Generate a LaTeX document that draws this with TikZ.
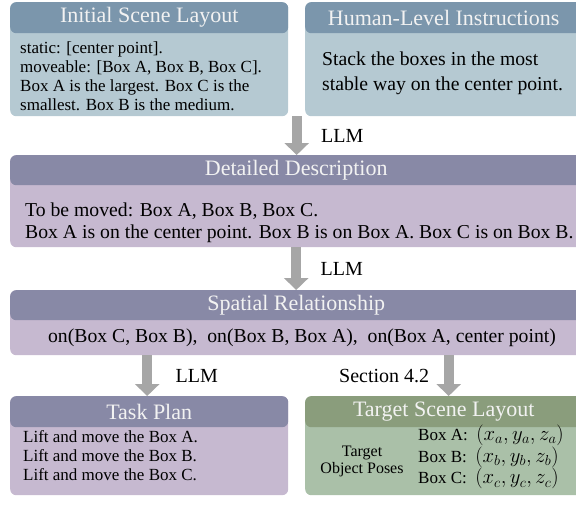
\documentclass[tikz,border=0pt]{standalone}
\usepackage{fontspec}
\setmainfont{Liberation Serif}
\usetikzlibrary{arrows.meta,calc}
\definecolor{bluehead}{HTML}{7B96AC}
\definecolor{bluebody}{HTML}{B5C9D2}
\definecolor{purphead}{HTML}{8889A6}
\definecolor{purpbody}{HTML}{C6B9D0}
\definecolor{greenhead}{HTML}{8A9D7C}
\definecolor{greenbody}{HTML}{AAC0A8}
\definecolor{arrowgray}{HTML}{A6A6A6}
\definecolor{headtext}{HTML}{F2F2F2}
\newcommand{\posemath}[1]{{\fontsize{19.5}{18}\selectfont$#1$}}

\begin{document}
\begin{tikzpicture}[x=1pt, y=-1pt,
  panel/.style={rounded corners=6pt, anchor=north west, inner sep=0pt},
  head/.style={rounded corners=6pt, anchor=north west, inner sep=0pt, minimum height=31pt, text=headtext, font=\fontsize{22}{24}\selectfont},
  bigarrow/.style={draw=arrowgray, line width=10pt, -{Triangle[length=12pt, width=24pt]}},
  lbl/.style={font=\fontsize{20}{22}\selectfont},
  txt/.style={anchor=west, inner sep=0pt, align=left}]
\useasboundingbox (0,0) rectangle (576,504);
\clip (0,0) rectangle (576,504);

% Initial scene layout
\node[panel, fill=bluebody, minimum width=278pt, minimum height=114pt] (init) at (10,2) {};
\node[head, fill=bluehead, minimum width=278pt] (initH) at (init.north west) {Initial Scene Layout};
\node[txt, font=\fontsize{17}{19}\selectfont] (initT) at (20,76) {static: [center point].\\moveable: [Box A, Box B, Box C].\\Box A is the largest. Box C is the\\smallest. Box B is the medium.};

% Human-level instructions
\node[panel, fill=bluebody, minimum width=277pt, minimum height=114pt] (instr) at (305,2) {};
\node[head, fill=bluehead, minimum width=277pt] (instrH) at (instr.north west) {Human-Level Instructions};
\node[txt, font=\fontsize{19.7}{25}\selectfont] (instrT) at (322,73) {Stack the boxes in the most\\stable way on the center point.};

% Detailed description
\node[panel, fill=purpbody, minimum width=572pt, minimum height=92pt] (detail) at (10,155) {};
\node[head, fill=purphead, minimum width=572pt, minimum height=30pt] (detailH) at (detail.north west) {Detailed Description};
\node[txt, font=\fontsize{19.7}{22.5}\selectfont] (detailT) at (25,223) {To be moved: Box A, Box B, Box C.\\Box A is on the center point. Box B is on Box A. Box C is on Box B.};

% Spatial relationship
\node[panel, fill=purpbody, minimum width=572pt, minimum height=65pt] (spatial) at (10,290) {};
\node[head, fill=purphead, minimum width=572pt, minimum height=30pt] (spatialH) at (spatial.north west) {Spatial Relationship};
\node[font=\fontsize{19.7}{22}\selectfont, inner sep=0pt] (spatialT) at (302,338) {on(Box C, Box B),\ \ on(Box B, Box A),\ \ on(Box A, center point)};

% Task plan
\node[panel, fill=purpbody, minimum width=278pt, minimum height=99pt] (task) at (10,396) {};
\node[head, fill=purphead, minimum width=278pt] (taskH) at (task.north west) {Task Plan};
\node[txt, font=\fontsize{17}{19}\selectfont] (taskT) at (23,456) {Lift and move the Box A.\\Lift and move the Box B.\\Lift and move the Box C.};

% Target scene layout
\node[panel, fill=greenbody, minimum width=277pt, minimum height=99pt] (target) at (305,396) {};
\node[head, fill=greenhead, minimum width=277pt] (targetH) at (target.north west) {Target Scene Layout};
\node[font=\fontsize{16}{17}\selectfont, align=center, inner sep=0pt] (posesL) at (362,461) {Target\\Object Poses};
\node[txt, font=\fontsize{17}{18}\selectfont] (poses) at (418,457) {Box A:\ \ \posemath{(x_a, y_a, z_a)}\\Box B:\ \ \posemath{(x_b, y_b, z_b)}\\Box C:\ \ \posemath{(x_c, y_c, z_c)}};

% Arrows
\coordinate (a1) at ($(init.south east)!.5!(instr.south west)$);
\draw[bigarrow] (a1) -- (a1 |- detail.north);
\draw[bigarrow] (detail.south) -- (spatial.north);
\draw[bigarrow] ($(spatial.south -| task.north)+(-2,0)$) -- ($(task.north)+(-2,0)$);
\draw[bigarrow] ($(spatial.south -| target.north)+(5,0)$) -- ($(target.north)+(5,0)$);

% Labels
\node[lbl, anchor=west] (llm1) at ($(a1)!.5!(a1 |- detail.north)+(21,0)$) {LLM};
\node[lbl, anchor=west] (llm2) at ($(detail.south)!.5!(spatial.north)+(21,0)$) {LLM};
\node[lbl, anchor=west] (llm3) at ($(spatial.south -| task.north)!.5!(task.north)+(23,0)$) {LLM};
\node[lbl, anchor=east] (sec) at ($(spatial.south -| target.north)!.5!(target.north)+(-11,0)$) {Section 4.2};
\end{tikzpicture}
\end{document}
